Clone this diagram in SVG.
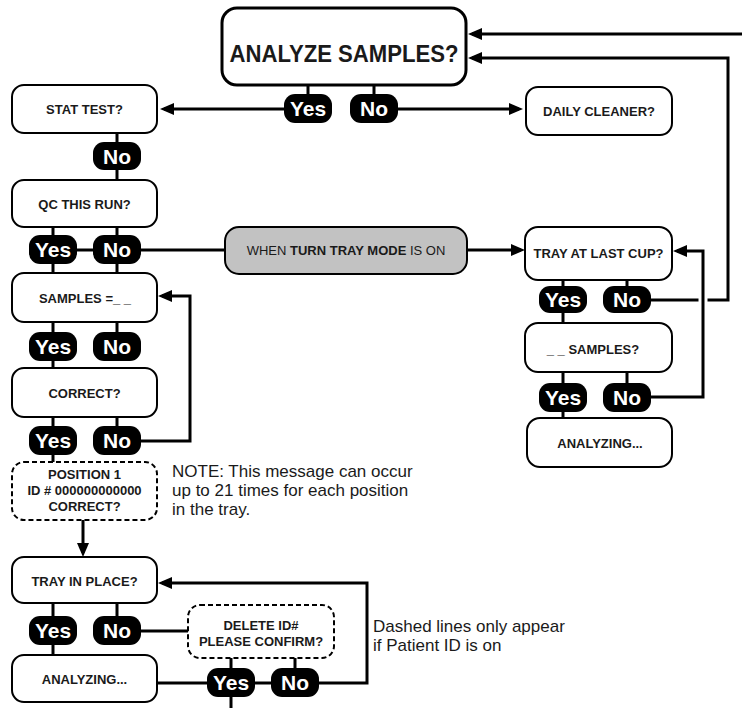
<svg xmlns="http://www.w3.org/2000/svg" width="742" height="708" viewBox="0 0 742 708">
<defs>
<style>
.box{fill:#fff;stroke:#000;stroke-width:2}
.dash{fill:#fff;stroke:#000;stroke-width:2;stroke-dasharray:5 3}
.gray{fill:#c2c2c2;stroke:#000;stroke-width:2}
.pill{fill:#000}
.lbl{font-family:"Liberation Sans",Arial,sans-serif;font-weight:bold;font-size:13px;text-anchor:middle;fill:#1a1a1a}
.pt{font-family:"Liberation Sans",Arial,sans-serif;font-weight:bold;font-size:21px;text-anchor:middle;fill:#fff}
.note{font-family:"Liberation Sans",Arial,sans-serif;font-size:17px;fill:#1a1a1a}
.ln{stroke:#000;stroke-width:3;fill:none}
.arr{marker-end:url(#ah)}
</style>
<marker id="ah" markerUnits="userSpaceOnUse" markerWidth="14" markerHeight="12" refX="10" refY="6" orient="auto">
<path d="M0,0 L14,6 L0,12 z" fill="#000"/>
</marker>
</defs>
<rect width="742" height="708" fill="#fff"/>

<g id="connectors">
<path class="ln arr" d="M742,34 H472"/>
<path class="ln arr" d="M650,300 H728 V58 H472"/>
<path class="ln" d="M308,84 V94 M374,84 V94"/>
<path class="ln arr" d="M284,109 H164"/>
<path class="ln arr" d="M398,109 H519"/>
<path class="ln" d="M117,133 V142 M117,170 V180"/>
<path class="ln" d="M53,227 V235 M117,227 V235"/>
<path class="ln" d="M77,250 H93"/>
<path class="ln" d="M141,250 H225"/>
<path class="ln arr" d="M467,250 H521"/>
<path class="ln" d="M53,264 V273 M117,264 V273"/>
<path class="ln" d="M53,322 V332 M117,322 V332"/>
<path class="ln" d="M53,361 V368"/>
<path class="ln" d="M53,417 V426 M117,417 V426"/>
<path class="ln arr" d="M141,441 H190 V296 H162"/>
<path class="ln" d="M53,455 V462"/>
<path class="ln arr" d="M83,520 V553"/>
<path class="ln" d="M53,603 V616 M117,603 V616"/>
<path class="ln" d="M53,645 V655"/>
<path class="ln" d="M141,631 H188"/>
<path class="ln" d="M157,683 H207"/>
<path class="ln" d="M255,683 H271"/>
<path class="ln arr" d="M319,683 H367 V583 H162"/>
<path class="ln" d="M231,658 V668 M295,658 V668"/>
<path class="ln" d="M231,697 V708"/>
<path class="ln" d="M563,280 V286 M627,280 V286"/>
<path class="ln" d="M563,313 V323"/>
<path class="ln" d="M563,372 V383 M627,372 V383"/>
<path class="ln" d="M563,412 V418"/>
<path d="M703,292 V308" stroke="#fff" stroke-width="9"/>
<path class="ln arr" d="M651,397 H703 V251 H677"/>
</g>

<g id="analyze-samples">
<rect x="222" y="8" width="244" height="77" rx="15" fill="#fff" stroke="#000" stroke-width="3"/>
<text x="344" y="62" font-family="Liberation Sans, Arial, sans-serif" font-weight="bold" font-size="24" text-anchor="middle" fill="#1a1a1a" textLength="229" lengthAdjust="spacingAndGlyphs">ANALYZE SAMPLES?</text>
</g>
<g id="yes-analyze"><rect class="pill" x="284" y="94" width="48" height="29" rx="11"/><text class="pt" x="308" y="116">Yes</text></g>
<g id="no-analyze"><rect class="pill" x="350" y="94" width="48" height="29" rx="11"/><text class="pt" x="374" y="116">No</text></g>

<g id="stat-test"><rect class="box" x="12" y="85" width="145" height="48" rx="12"/><text class="lbl" x="84.5" y="114">STAT TEST?</text></g>
<g id="daily-cleaner"><rect class="box" x="526" y="87" width="146" height="48" rx="12"/><text class="lbl" x="599" y="116">DAILY CLEANER?</text></g>
<g id="no-stat"><rect class="pill" x="93" y="142" width="48" height="28" rx="11"/><text class="pt" x="117" y="163.5">No</text></g>

<g id="qc-run"><rect class="box" x="12" y="180" width="145" height="47" rx="12"/><text class="lbl" x="84.5" y="209">QC THIS RUN?</text></g>
<g id="yes-qc"><rect class="pill" x="29" y="235" width="48" height="29" rx="11"/><text class="pt" x="53" y="257">Yes</text></g>
<g id="no-qc"><rect class="pill" x="93" y="235" width="48" height="29" rx="11"/><text class="pt" x="117" y="257">No</text></g>

<g id="turn-tray-mode"><rect class="gray" x="225" y="227" width="242" height="47" rx="14"/>
<text x="346" y="255" font-family="Liberation Sans, Arial, sans-serif" font-size="13" text-anchor="middle" fill="#1a1a1a">WHEN <tspan font-weight="bold">TURN TRAY MODE</tspan> IS ON</text></g>

<g id="tray-last-cup"><rect class="box" x="525" y="227" width="147" height="53" rx="13"/><text class="lbl" x="598.5" y="258">TRAY AT LAST CUP?</text></g>
<g id="yes-tray-last"><rect class="pill" x="539" y="286" width="48" height="27" rx="11"/><text class="pt" x="563" y="307">Yes</text></g>
<g id="no-tray-last"><rect class="pill" x="603" y="286" width="48" height="27" rx="11"/><text class="pt" x="627" y="307">No</text></g>

<g id="n-samples"><rect class="box" x="525" y="323" width="147" height="49" rx="13"/><text class="lbl" x="593" y="354">_ _ SAMPLES?</text></g>
<g id="yes-n-samples"><rect class="pill" x="539" y="383" width="48" height="29" rx="11"/><text class="pt" x="563" y="405">Yes</text></g>
<g id="no-n-samples"><rect class="pill" x="603" y="383" width="48" height="29" rx="11"/><text class="pt" x="627" y="405">No</text></g>
<g id="analyzing-right"><rect class="box" x="527" y="418" width="145" height="49" rx="13"/><text class="lbl" x="600" y="448">ANALYZING...</text></g>

<g id="samples-eq"><rect class="box" x="12" y="273" width="145" height="49" rx="12"/><text class="lbl" x="85" y="303">SAMPLES =_ _</text></g>
<g id="yes-samples"><rect class="pill" x="29" y="332" width="48" height="29" rx="11"/><text class="pt" x="53" y="354">Yes</text></g>
<g id="no-samples"><rect class="pill" x="93" y="332" width="48" height="29" rx="11"/><text class="pt" x="117" y="354">No</text></g>

<g id="correct"><rect class="box" x="12" y="368" width="145" height="49" rx="12"/><text class="lbl" x="84.5" y="398">CORRECT?</text></g>
<g id="yes-correct"><rect class="pill" x="29" y="426" width="48" height="29" rx="11"/><text class="pt" x="53" y="448">Yes</text></g>
<g id="no-correct"><rect class="pill" x="93" y="426" width="48" height="29" rx="11"/><text class="pt" x="117" y="448">No</text></g>

<g id="position-id"><rect class="dash" x="12" y="462" width="145" height="58" rx="12"/>
<text class="lbl" x="84.5" y="479">POSITION 1</text>
<text class="lbl" x="84.5" y="495">ID # 000000000000</text>
<text class="lbl" x="84.5" y="511">CORRECT?</text></g>

<g id="note"><text class="note" x="172" y="477">NOTE: This message can occur</text>
<text class="note" x="172" y="496">up to 21 times for each position</text>
<text class="note" x="172" y="515">in the tray.</text></g>

<g id="tray-in-place"><rect class="box" x="12" y="557" width="145" height="46" rx="12"/><text class="lbl" x="84.5" y="586">TRAY IN PLACE?</text></g>
<g id="yes-tray-place"><rect class="pill" x="29" y="616" width="48" height="29" rx="11"/><text class="pt" x="53" y="638">Yes</text></g>
<g id="no-tray-place"><rect class="pill" x="93" y="616" width="48" height="29" rx="11"/><text class="pt" x="117" y="638">No</text></g>

<g id="delete-id"><rect class="dash" x="188" y="605" width="146" height="53" rx="12"/>
<text class="lbl" x="261" y="630">DELETE ID#</text>
<text class="lbl" x="261" y="646">PLEASE CONFIRM?</text></g>
<g id="yes-delete"><rect class="pill" x="207" y="668" width="48" height="29" rx="11"/><text class="pt" x="231" y="690">Yes</text></g>
<g id="no-delete"><rect class="pill" x="271" y="668" width="48" height="29" rx="11"/><text class="pt" x="295" y="690">No</text></g>

<g id="analyzing-left"><rect class="box" x="12" y="655" width="145" height="47" rx="12"/><text class="lbl" x="84.5" y="684">ANALYZING...</text></g>

<g id="dashed-note"><text class="note" x="373" y="632">Dashed lines only appear</text>
<text class="note" x="373" y="651">if Patient ID is on</text></g>
</svg>
